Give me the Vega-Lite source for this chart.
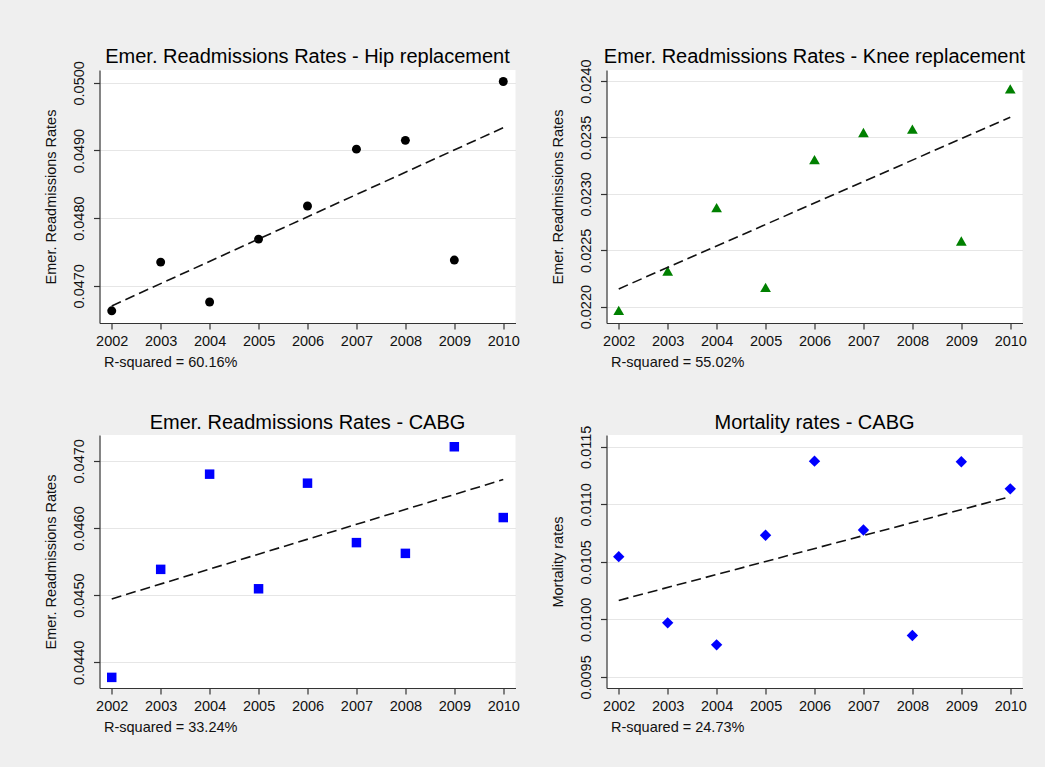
{
  "$schema": "https://vega.github.io/schema/vega-lite/v6.json",
  "background": "#efefef",
  "padding": {"left": 42.5, "top": 46, "right": 18, "bottom": 36},
  "columns": 2,
  "spacing": {"column": 91, "row": 112},
  "bounds": "flush",
  "datasets": {
    "hip": [
      {"year": 2002, "rate": 0.04663},
      {"year": 2003, "rate": 0.04735},
      {"year": 2004, "rate": 0.04676},
      {"year": 2005, "rate": 0.04769},
      {"year": 2006, "rate": 0.04818},
      {"year": 2007, "rate": 0.04902},
      {"year": 2008, "rate": 0.04915},
      {"year": 2009, "rate": 0.04738},
      {"year": 2010, "rate": 0.05002}
    ],
    "knee": [
      {"year": 2002, "rate": 0.021967},
      {"year": 2003, "rate": 0.022316},
      {"year": 2004, "rate": 0.022878},
      {"year": 2005, "rate": 0.022171},
      {"year": 2006, "rate": 0.023304},
      {"year": 2007, "rate": 0.023544},
      {"year": 2008, "rate": 0.023573},
      {"year": 2009, "rate": 0.022582},
      {"year": 2010, "rate": 0.023931}
    ],
    "cabg": [
      {"year": 2002, "rate": 0.043776},
      {"year": 2003, "rate": 0.045384},
      {"year": 2004, "rate": 0.046801},
      {"year": 2005, "rate": 0.045095},
      {"year": 2006, "rate": 0.046667},
      {"year": 2007, "rate": 0.045782},
      {"year": 2008, "rate": 0.045622},
      {"year": 2009, "rate": 0.047209},
      {"year": 2010, "rate": 0.046155}
    ],
    "mort": [
      {"year": 2002, "rate": 0.010545},
      {"year": 2003, "rate": 0.00997},
      {"year": 2004, "rate": 0.009779},
      {"year": 2005, "rate": 0.010731},
      {"year": 2006, "rate": 0.011375},
      {"year": 2007, "rate": 0.010777},
      {"year": 2008, "rate": 0.00986},
      {"year": 2009, "rate": 0.011369},
      {"year": 2010, "rate": 0.011134}
    ]
  },
  "concat": [
    {
      "width": 416, "height": 253,
      "title": {"text": "Emer. Readmissions Rates - Hip replacement", "offset": -6},
      "data": {"name": "hip"},
      "encoding": {
        "x": {"field": "year", "type": "quantitative",
              "scale": {"domain": [2001.75, 2010.25], "nice": false, "zero": false},
              "axis": {"values": [2002, 2003, 2004, 2005, 2006, 2007, 2008, 2009, 2010], "format": "d", "title": "R-squared = 60.16%"}},
        "y": {"field": "rate", "type": "quantitative",
              "scale": {"domain": [0.04645, 0.05019], "nice": false, "zero": false},
              "axis": {"values": [0.047, 0.048, 0.049, 0.05], "format": ".4f", "title": "Emer. Readmissions Rates"}}
      },
      "layer": [
        {"mark": {"type": "point", "shape": "circle", "filled": true, "size": 80, "color": "black", "opacity": 1}},
        {"transform": [{"regression": "rate", "on": "year"}],
         "mark": {"type": "line", "color": "#111111", "strokeDash": [10, 5], "strokeWidth": 1.6}}
      ]
    },
    {
      "width": 416, "height": 253,
      "title": {"text": "Emer. Readmissions Rates - Knee replacement", "offset": -7.7},
      "data": {"name": "knee"},
      "encoding": {
        "x": {"field": "year", "type": "quantitative",
              "scale": {"domain": [2001.75, 2010.25], "nice": false, "zero": false},
              "axis": {"values": [2002, 2003, 2004, 2005, 2006, 2007, 2008, 2009, 2010], "format": "d", "title": "R-squared = 55.02%"}},
        "y": {"field": "rate", "type": "quantitative",
              "scale": {"domain": [0.021855, 0.024098], "nice": false, "zero": false},
              "axis": {"values": [0.022, 0.0225, 0.023, 0.0235, 0.024], "format": ".4f", "title": "Emer. Readmissions Rates"}}
      },
      "layer": [
        {"mark": {"type": "point", "shape": "triangle-up", "filled": true, "size": 115, "color": "#008000", "opacity": 1}},
        {"transform": [{"regression": "rate", "on": "year"}],
         "mark": {"type": "line", "color": "#111111", "strokeDash": [10, 5], "strokeWidth": 1.6}}
      ]
    },
    {
      "width": 416, "height": 253,
      "title": {"text": "Emer. Readmissions Rates - CABG", "offset": 2},
      "data": {"name": "cabg"},
      "encoding": {
        "x": {"field": "year", "type": "quantitative",
              "scale": {"domain": [2001.75, 2010.25], "nice": false, "zero": false},
              "axis": {"values": [2002, 2003, 2004, 2005, 2006, 2007, 2008, 2009, 2010], "format": "d", "title": "R-squared = 33.24%"}},
        "y": {"field": "rate", "type": "quantitative",
              "scale": {"domain": [0.043618, 0.047384], "nice": false, "zero": false},
              "axis": {"values": [0.044, 0.045, 0.046, 0.047], "format": ".4f", "title": "Emer. Readmissions Rates"}}
      },
      "layer": [
        {"mark": {"type": "point", "shape": "square", "filled": true, "size": 90, "color": "#0000ff", "opacity": 1}},
        {"transform": [{"regression": "rate", "on": "year"}],
         "mark": {"type": "line", "color": "#111111", "strokeDash": [10, 5], "strokeWidth": 1.6}}
      ]
    },
    {
      "width": 416, "height": 253,
      "title": {"text": "Mortality rates - CABG", "offset": -8},
      "data": {"name": "mort"},
      "encoding": {
        "x": {"field": "year", "type": "quantitative",
              "scale": {"domain": [2001.75, 2010.25], "nice": false, "zero": false},
              "axis": {"values": [2002, 2003, 2004, 2005, 2006, 2007, 2008, 2009, 2010], "format": "d", "title": "R-squared = 24.73%"}},
        "y": {"field": "rate", "type": "quantitative",
              "scale": {"domain": [0.009404, 0.011602], "nice": false, "zero": false},
              "axis": {"values": [0.0095, 0.01, 0.0105, 0.011, 0.0115], "format": ".4f", "title": "Mortality rates"}}
      },
      "layer": [
        {"mark": {"type": "point", "shape": "diamond", "filled": true, "size": 130, "color": "#0000ff", "opacity": 1}},
        {"transform": [{"regression": "rate", "on": "year"}],
         "mark": {"type": "line", "color": "#111111", "strokeDash": [10, 5], "strokeWidth": 1.6}}
      ]
    }
  ],
  "config": {
    "font": "Liberation Sans",
    "view": {"fill": "white", "stroke": null},
    "title": {"fontSize": 20, "fontWeight": "normal", "color": "#000000", "frame": "group", "anchor": "middle", "font": "Liberation Sans"},
    "axis": {
      "labelFont": "Liberation Sans", "labelFontSize": 14.5, "labelColor": "#111111",
      "titleFont": "Liberation Sans", "titleFontSize": 14.5, "titleFontWeight": "normal", "titleColor": "#111111",
      "domainColor": "#333333", "tickColor": "#333333", "tickSize": 6, "domainWidth": 1.2, "tickWidth": 1.2,
      "gridColor": "#e6e6e6", "gridWidth": 1
    },
    "axisX": {"grid": false, "labelPadding": 5, "titleAnchor": "start", "titleAlign": "left", "titleX": 4, "titlePadding": 8},
    "axisY": {"grid": true, "labelAngle": -90, "labelAlign": "center", "labelBaseline": "alphabetic", "labelPadding": 10, "titlePadding": 13.5}
  }
}
